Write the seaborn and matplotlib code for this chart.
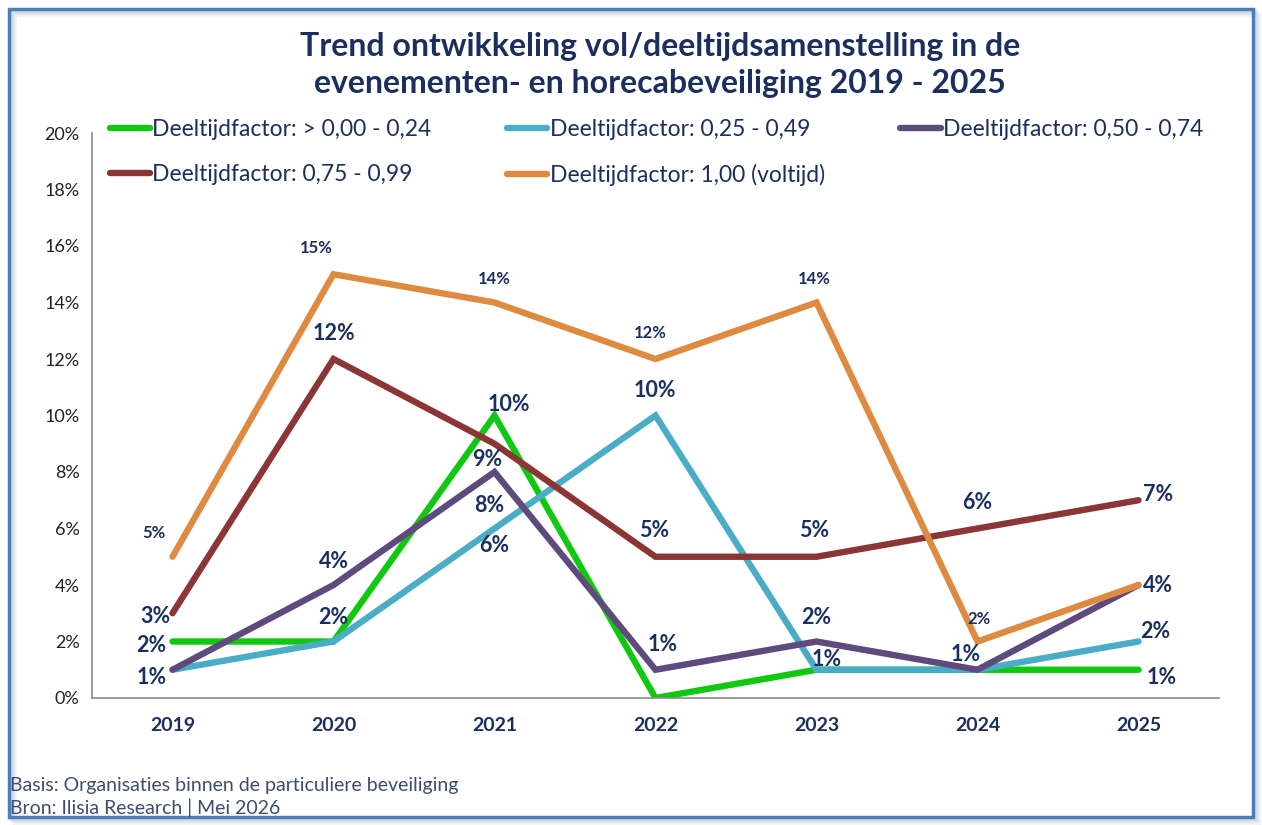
import matplotlib
matplotlib.use("Agg")
import matplotlib.pyplot as plt
import matplotlib.ticker as mticker
from matplotlib.patches import Rectangle
import seaborn as sns
import pandas as pd

years = ["2019", "2020", "2021", "2022", "2023", "2024", "2025"]
series_names = [
    "Deeltijdfactor: > 0,00 - 0,24",
    "Deeltijdfactor: 0,25 - 0,49",
    "Deeltijdfactor: 0,50 - 0,74",
    "Deeltijdfactor: 0,75 - 0,99",
    "Deeltijdfactor: 1,00 (voltijd)",
]
factor_000_024 = [0.02, 0.02, 0.10, 0.00, 0.01, 0.01, 0.01]
factor_025_049 = [0.01, 0.02, 0.06, 0.10, 0.01, 0.01, 0.02]
factor_050_074 = [0.01, 0.04, 0.08, 0.01, 0.02, 0.01, 0.04]
factor_075_099 = [0.03, 0.12, 0.09, 0.05, 0.05, 0.06, 0.07]
factor_100 = [0.05, 0.15, 0.14, 0.12, 0.14, 0.02, 0.04]

colors = ["#11C811", "#4BACC6", "#5F4A7D", "#8C3535", "#DE8A40"]
navy = "#1B2F5E"

all_values = [factor_000_024, factor_025_049, factor_050_074, factor_075_099, factor_100]
rows = []
for name, vals in zip(series_names, all_values):
    for i, v in enumerate(vals):
        rows.append({"x": i, "jaar": years[i], "reeks": name, "waarde": v})
df = pd.DataFrame(rows)

sns.set_style("white")
plt.rcParams["font.family"] = ["Lato", "DejaVu Sans"]

fig = plt.figure(figsize=(12.62, 8.25), dpi=100)
ax = fig.add_axes([92 / 1262, 1 - 698 / 825, 1127 / 1262, 565 / 825])

sns.lineplot(data=df, x="x", y="waarde", hue="reeks", hue_order=series_names,
             palette=colors, linewidth=4.6, ax=ax, legend=False,
             solid_capstyle="round", solid_joinstyle="miter")

ax.set_xlim(-0.5, 6.5)
ax.set_ylim(0, 0.20)
ax.set_yticks([i / 100 for i in range(0, 21, 2)])
ax.yaxis.set_major_formatter(mticker.FuncFormatter(lambda v, p: f"{round(v * 100)}%"))
ax.set_xticks(range(len(years)))
ax.set_xticklabels(years, fontweight="bold", color=navy, fontsize=14)
ax.set_xticks([i - 0.5 for i in range(len(years) + 1)], minor=True)
ax.tick_params(axis="x", which="major", length=0, pad=14)
ax.tick_params(axis="x", which="minor", length=6, direction="out", color="#8A8A8A")
ax.tick_params(axis="y", length=5, direction="out", color="#8A8A8A", labelsize=13,
               labelcolor="#222222", pad=4)
ax.set_xlabel("")
ax.set_ylabel("")
for s in ["top", "right"]:
    ax.spines[s].set_visible(False)
for s in ["left", "bottom"]:
    ax.spines[s].set_color("#8A8A8A")
    ax.spines[s].set_linewidth(1.2)

# data labels: (series index, year index, dx px, dy px, ha, small)
labels = [
    (4, 0, -19, 24, "center", True), (4, 1, -17, 26, "center", True),
    (4, 2, 0, 24, "center", True), (4, 3, -5, 26, "center", True),
    (4, 4, -2, 24, "center", True), (4, 5, 1, 23, "center", True),
    (3, 0, -2, -3, "right", False), (3, 1, 0, 26, "center", False),
    (3, 2, -7, -16, "center", False), (3, 3, -1, 26, "center", False),
    (3, 4, -2, 26, "center", False), (3, 5, 0, 26, "center", False),
    (3, 6, 4, 6, "left", False),
    (0, 0, -6, -4, "right", False), (0, 1, 0, 24, "center", False),
    (0, 2, 14, 11, "center", False), (0, 6, 8, -8, "left", False),
    (1, 2, 0, -17, "center", False), (1, 3, -1, 25, "center", False),
    (1, 4, 10, 10, "center", False), (1, 6, 2, 10, "left", False),
    (2, 0, -6, -8, "right", False), (2, 1, 0, 24, "center", False),
    (2, 2, -5, -33, "center", False), (2, 3, 7, 25, "center", False),
    (2, 4, 0, 24, "center", False), (2, 5, -12, 15, "center", False),
    (2, 6, 4, 0, "left", False),
]
for si, yi, dx, dy, ha, small in labels:
    v = all_values[si][yi]
    ax.annotate(f"{round(v * 100)}%", (yi, v), xytext=(dx, dy), textcoords="offset pixels",
                ha=ha, va="center", color=navy, fontweight="bold",
                fontsize=12 if small else 15.5, annotation_clip=False)

# legend, ordered so columns read row-wise like the original
handles = [plt.Line2D([], [], color=c, linewidth=4.6, solid_capstyle="round") for c in colors]
order = [0, 3, 1, 4, 2]
leg = fig.legend([handles[i] for i in order], [series_names[i] for i in order],
                 ncol=3, loc="upper left", bbox_to_anchor=(110 / 1262, 1 - 119 / 825),
                 frameon=False, fontsize=16.5, handlelength=1.75, handletextpad=0.1,
                 columnspacing=3.3, labelspacing=1.05, borderaxespad=0, borderpad=0)
for t in leg.get_texts():
    t.set_color(navy)

fig.text(0.523, 1 - 65 / 825,
         "Trend ontwikkeling vol/deeltijdsamenstelling in de\nevenementen- en horecabeveiliging 2019 - 2025",
         ha="center", va="center", fontsize=23, fontweight="bold", color=navy, linespacing=1.35)

fig.text(10 / 1262, 1 - 785 / 825, "Basis: Organisaties binnen de particuliere beveiliging",
         ha="left", va="center", fontsize=14, color="#3E4C6E")
fig.text(10 / 1262, 1 - 808 / 825, "Bron: Ilisia Research | Mei 2026",
         ha="left", va="center", fontsize=14, color="#3E4C6E")

# frame with shadow
for off, a in [(6, 0.10), (4, 0.15), (2, 0.2)]:
    fig.patches.append(Rectangle((9 / 1262 + off / 1262, 8 / 825 - off / 825), 1244 / 1262, 808 / 825,
                                 transform=fig.transFigure, fill=False,
                                 edgecolor="#8A90A8", alpha=a, linewidth=3))
fig.patches.append(Rectangle((9 / 1262, 8 / 825), 1244 / 1262, 808 / 825,
                             transform=fig.transFigure, fill=False,
                             edgecolor="#4A7EBB", linewidth=2.5))

fig.savefig("out.png", dpi=100)
